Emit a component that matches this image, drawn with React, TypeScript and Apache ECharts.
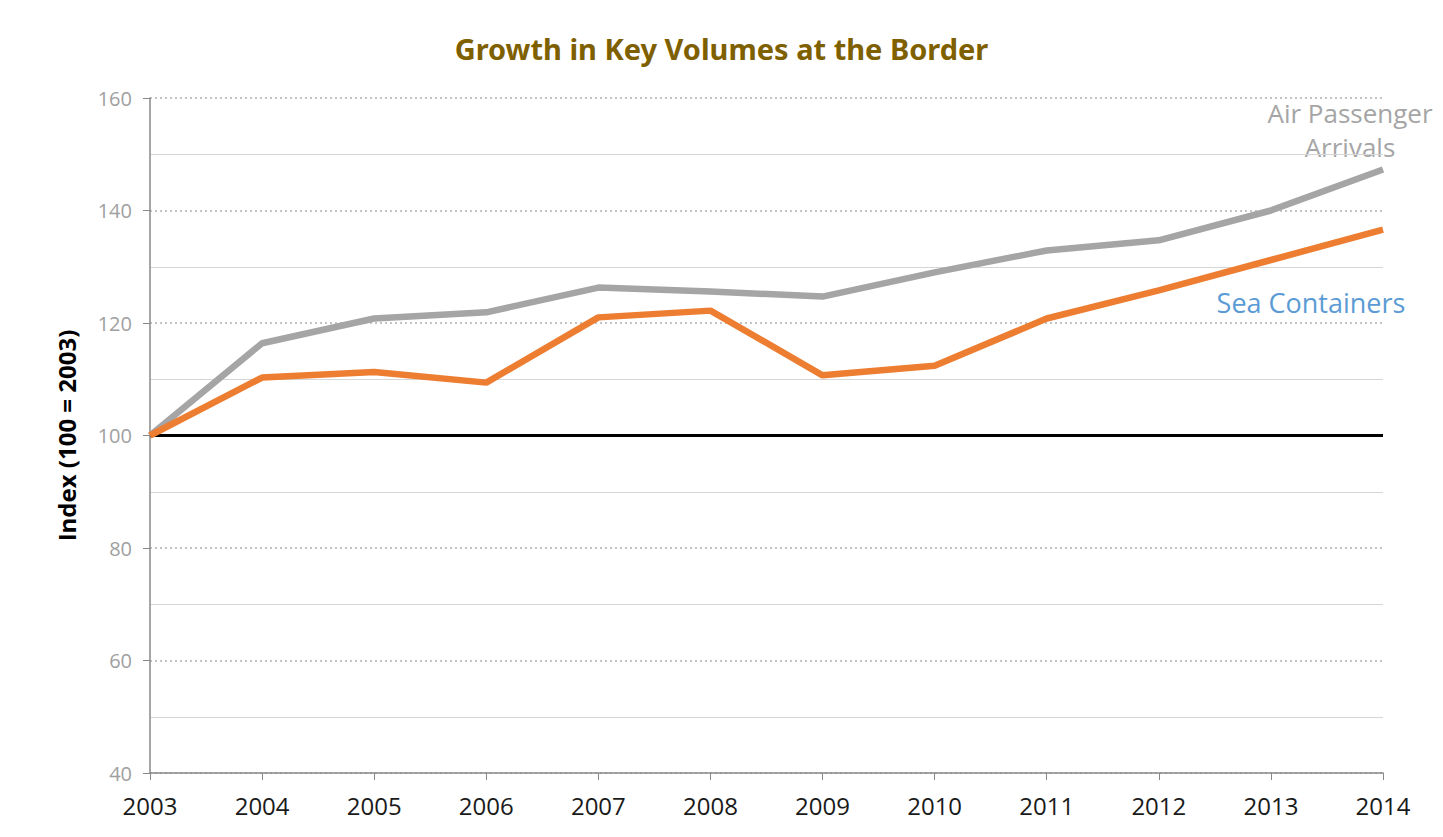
import React, { useEffect, useRef } from "react";
import * as echarts from "echarts";

const years = ["2003", "2004", "2005", "2006", "2007", "2008", "2009", "2010", "2011", "2012", "2013", "2014"];
const airPassengers = [100, 116.4, 120.8, 121.9, 126.3, 125.6, 124.7, 129.0, 132.9, 134.7, 140.0, 147.3];
const seaContainers = [100, 110.3, 111.3, 109.4, 121.0, 122.2, 110.7, 112.4, 120.8, 125.8, 131.2, 136.6];

export default function App() {
  const ref = useRef<HTMLDivElement>(null);
  useEffect(() => {
    if (!ref.current) return;
    const chart = echarts.init(ref.current, undefined, { renderer: "svg" });
    const font = "'Open Sans', 'Noto Sans', sans-serif";
    chart.setOption({
      animation: false,
      backgroundColor: "#ffffff",
      title: {
        text: "Growth in Key Volumes at the Border",
        left: "center",
        top: 29,
        textStyle: { color: "#7F6000", fontSize: 29, fontWeight: "bold", fontFamily: "'Noto Sans', sans-serif" },
      },
      grid: { left: 150, right: 60, top: 98, bottom: 64, containLabel: false },
      xAxis: {
        type: "category",
        data: years,
        boundaryGap: false,
        axisLine: { lineStyle: { color: "#888888", width: 1.5 } },
        axisTick: { show: true, alignWithLabel: true, length: 7, lineStyle: { color: "#888888" } },
        axisLabel: { color: "#1a1a1a", fontSize: 24, fontFamily: font, margin: 20 },
        splitLine: { show: false },
      },
      yAxis: {
        type: "value",
        min: 40,
        max: 160,
        interval: 20,
        name: "Index (100 = 2003)",
        nameLocation: "middle",
        nameGap: 72,
        nameTextStyle: { color: "#000000", fontSize: 24, fontWeight: "bold", fontFamily: font },
        axisLine: { show: true, lineStyle: { color: "#888888", width: 1.5 } },
        axisTick: { show: true, length: 7, lineStyle: { color: "#888888" } },
        axisLabel: { color: "#a0a0a0", fontSize: 20, fontFamily: font, margin: 18 },
        splitLine: { show: true, lineStyle: { color: "#b0b0b0", type: [2, 3], width: 1.5 } },
        minorTick: { show: false, splitNumber: 2 },
        minorSplitLine: { show: true, lineStyle: { color: "#d6d6d6", width: 1 } },
      },
      series: [
        {
          name: "Air Passenger Arrivals",
          type: "line",
          data: airPassengers,
          showSymbol: false,
          lineStyle: { color: "#A5A5A5", width: 6.5 },
          itemStyle: { color: "#A5A5A5" },
          z: 3,
        },
        {
          name: "Sea Containers",
          type: "line",
          data: seaContainers,
          showSymbol: false,
          lineStyle: { color: "#ED7D31", width: 6.5 },
          itemStyle: { color: "#ED7D31" },
          z: 4,
          markLine: {
            silent: true,
            symbol: "none",
            label: { show: false },
            lineStyle: { color: "#000000", width: 3, type: "solid" },
            data: [{ yAxis: 100 }],
            z: 2,
          },
        },
      ],
      graphic: [
        {
          type: "text",
          x: 1350,
          y: 130,
          style: {
            text: "Air Passenger\nArrivals",
            fill: "#A5A5A5",
            fontSize: 26,
            fontFamily: font,
            align: "center",
            verticalAlign: "middle",
            lineHeight: 34,
          },
        },
        {
          type: "text",
          x: 1311,
          y: 302,
          style: {
            text: "Sea Containers",
            fill: "#5B9BD5",
            fontSize: 27,
            fontFamily: font,
            align: "center",
            verticalAlign: "middle",
          },
        },
      ],
    });
    return () => chart.dispose();
  }, []);
  return <div ref={ref} style={{ position: "fixed", left: 0, top: 0, width: 1443, height: 837 }} />;
}
